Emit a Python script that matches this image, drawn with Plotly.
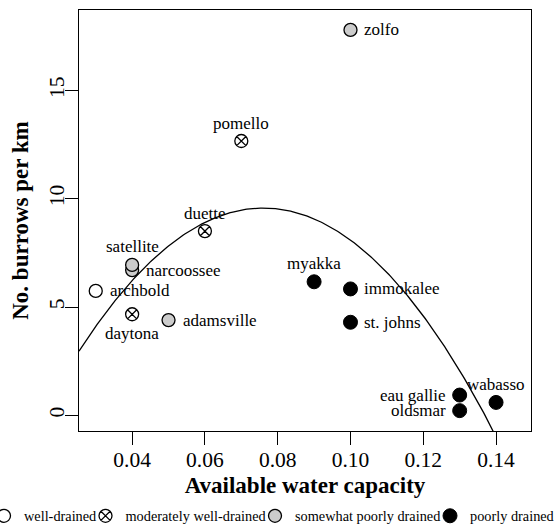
import numpy as np
import plotly.graph_objects as go

# ---- data ----
well_sites = ["archbold"]
well_awc = [0.03]
well_burrows = [5.75]
well_pos = ["right"]

mod_sites = ["pomello", "duette", "daytona"]
mod_awc = [0.07, 0.06, 0.04]
mod_burrows = [12.67, 8.51, 4.67]
mod_pos = ["top", "top", "bottom"]

spd_sites = ["zolfo", "narcoossee", "satellite", "adamsville"]
spd_awc = [0.10, 0.04, 0.04, 0.05]
spd_burrows = [17.8, 6.71, 6.95, 4.40]
spd_pos = ["right", "right", "top", "right"]

pd_sites = ["myakka", "immokalee", "st. johns", "eau gallie", "oldsmar", "wabasso"]
pd_awc = [0.09, 0.10, 0.10, 0.13, 0.13, 0.14]
pd_burrows = [6.17, 5.84, 4.30, 0.94, 0.22, 0.60]
pd_pos = ["top", "right", "right", "left", "left", "top"]

class_names = ["well-drained", "moderately well-drained", "somewhat poorly drained", "poorly drained"]

x_ticks = [0.04, 0.06, 0.08, 0.10, 0.12, 0.14]
y_ticks = [0, 5, 10, 15]
x_range = [0.0254, 0.1496]
y_range = [-0.72, 18.72]

FONT = "Liberation Serif, Times New Roman, serif"
LABEL_FONT = dict(family=FONT, size=17, color="black")

fig = go.Figure()

groups = [
    (well_sites, well_awc, well_burrows, well_pos, dict(symbol="circle", color="white", size=13,
                                                          line=dict(color="black", width=1.3))),
    (mod_sites, mod_awc, mod_burrows, mod_pos, dict(symbol="circle-x-open", color="black", size=13,
                                                      line=dict(color="black", width=1.3))),
    (spd_sites, spd_awc, spd_burrows, spd_pos, dict(symbol="circle", color="#cccccc", size=13,
                                                      line=dict(color="black", width=1.3))),
    (pd_sites, pd_awc, pd_burrows, pd_pos, dict(symbol="circle", color="black", size=14,
                                                  line=dict(color="black", width=1))),
]
legend_ids = ["legend", "legend2", "legend3", "legend4"]

# label placement offsets (pixels) per position code
place = {
    "right": dict(xanchor="left", yanchor="middle", xshift=13, yshift=0),
    "left": dict(xanchor="right", yanchor="middle", xshift=-13, yshift=0),
    "top": dict(xanchor="center", yanchor="middle", xshift=0, yshift=18),
    "bottom": dict(xanchor="center", yanchor="middle", xshift=0, yshift=-19),
}

annotations = []
for (names, xs, ys, pos, mk), cname, lid in zip(groups, class_names, legend_ids):
    fig.add_trace(go.Scatter(
        x=xs, y=ys, mode="markers", marker=mk, name=cname, legend=lid, hoverinfo="skip",
    ))
    for n, xv, yv, p in zip(names, xs, ys, pos):
        annotations.append(dict(x=xv, y=yv, xref="x", yref="y", text=n, showarrow=False,
                                font=LABEL_FONT, borderpad=0, **place[p]))

# quadratic least-squares fit of all points
all_x = np.array(well_awc + mod_awc + spd_awc + pd_awc)
all_y = np.array(well_burrows + mod_burrows + spd_burrows + pd_burrows)
coef = np.polyfit(all_x, all_y, 2)
cx = np.linspace(x_range[0], x_range[1], 300)
cy = np.polyval(coef, cx)
fig.add_trace(go.Scatter(x=cx, y=cy, mode="lines", line=dict(color="black", width=1.3),
                         showlegend=False, hoverinfo="skip"))

# legends positioned along the bottom
W, H = 557, 530
ml, mr, mt, mb = 79, 26, 10, 99
pw = W - ml - mr
ph = H - mt - mb
legend_px = [-16, 85.5, 255, 430]
legend_y_px = 516
leg_common = dict(orientation="h", xanchor="left", yanchor="middle", bgcolor="rgba(0,0,0,0)",
                  borderwidth=0, itemwidth=30,
                  font=dict(family=FONT, size=14.3, color="black"))
legend_layout = {}
for lid, px in zip(legend_ids, legend_px):
    legend_layout[lid] = dict(x=(px - ml) / pw, y=(H - mb - legend_y_px) / ph, **leg_common)

axis_common = dict(showline=True, linecolor="black", linewidth=1, mirror=True, showgrid=False,
                   zeroline=False, ticks="outside", ticklen=13, tickwidth=1, tickcolor="black",
                   tickfont=dict(family=FONT, size=21.5, color="black"))

fig.update_layout(
    width=W, height=H,
    margin=dict(l=ml, r=mr, t=mt, b=mb, autoexpand=False),
    paper_bgcolor="white", plot_bgcolor="white",
    xaxis=dict(range=x_range, tickvals=x_ticks, tickformat=".2f", ticklabelstandoff=-4,
               title=dict(text="<b>Available water capacity</b>",
                          font=dict(family=FONT, size=23, color="black"), standoff=6),
               **axis_common),
    yaxis=dict(range=y_range, tickvals=y_ticks, tickangle=-90, ticklabelstandoff=-8,
               title=dict(text="<b>No. burrows per km</b>",
                          font=dict(family=FONT, size=23, color="black"), standoff=10),
               **axis_common),
    annotations=annotations,
    **legend_layout,
)

fig.write_html("out.html", config={"displayModeBar": False},
               post_script="document.body.style.margin='0';document.body.style.overflow='hidden';")
